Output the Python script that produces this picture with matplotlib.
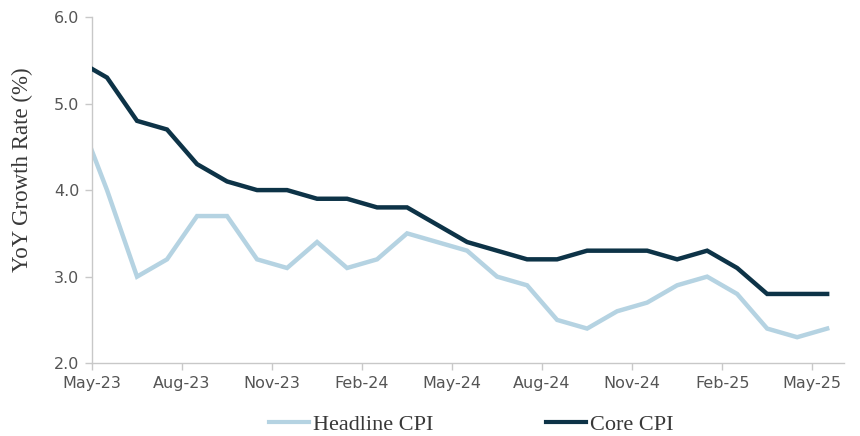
import matplotlib
matplotlib.use("Agg")
import matplotlib.pyplot as plt
import numpy as np

# Monthly CPI year-over-year growth, Apr-23 through May-25
months = ["Apr-23", "May-23", "Jun-23", "Jul-23", "Aug-23", "Sep-23", "Oct-23",
          "Nov-23", "Dec-23", "Jan-24", "Feb-24", "Mar-24", "Apr-24", "May-24",
          "Jun-24", "Jul-24", "Aug-24", "Sep-24", "Oct-24", "Nov-24", "Dec-24",
          "Jan-25", "Feb-25", "Mar-25", "Apr-25", "May-25"]
headline_cpi = [4.9, 4.0, 3.0, 3.2, 3.7, 3.7, 3.2, 3.1, 3.4, 3.1, 3.2, 3.5, 3.4,
                3.3, 3.0, 2.9, 2.5, 2.4, 2.6, 2.7, 2.9, 3.0, 2.8, 2.4, 2.3, 2.4]
core_cpi = [5.5, 5.3, 4.8, 4.7, 4.3, 4.1, 4.0, 4.0, 3.9, 3.9, 3.8, 3.8, 3.6,
            3.4, 3.3, 3.2, 3.2, 3.3, 3.3, 3.3, 3.2, 3.3, 3.1, 2.8, 2.8, 2.8]
tick_labels = ["May-23", "Aug-23", "Nov-23", "Feb-24", "May-24", "Aug-24",
               "Nov-24", "Feb-25", "May-25"]
y_ticks = [2.0, 3.0, 4.0, 5.0, 6.0]

HEADLINE_COLOR = "#b5d3e2"
CORE_COLOR = "#0d3347"

# Month index with May-23 = 0; observations sit mid-month
x = np.arange(len(months)) - 1 + 0.5
tick_pos = np.arange(0, 25, 3)

fig = plt.figure(figsize=(8.6, 4.36), dpi=100)
ax = fig.add_axes([0.107, 0.167, 0.874, 0.794])

ax.plot(x, headline_cpi, color=HEADLINE_COLOR, lw=3.2, solid_joinstyle="miter",
        label="Headline CPI", zorder=2)
ax.plot(x, core_cpi, color=CORE_COLOR, lw=3.2, solid_joinstyle="miter",
        label="Core CPI", zorder=3)

ax.set_xlim(0, 25.05)
ax.set_ylim(2.0, 6.0)
ax.set_xticks(tick_pos)
ax.set_xticklabels(tick_labels)
ax.set_yticks(y_ticks)
ax.set_yticklabels([f"{v:.1f}" for v in y_ticks])

for side in ("top", "right"):
    ax.spines[side].set_visible(False)
for side in ("left", "bottom"):
    ax.spines[side].set_color("#c8c8c8")
    ax.spines[side].set_linewidth(1.0)

ax.tick_params(axis="both", colors="#c8c8c8", labelcolor="#555555",
               labelsize=11.5, length=5, width=1.0)
ax.tick_params(axis="x", pad=4)
ax.tick_params(axis="y", pad=4)

ax.set_ylabel("YoY Growth Rate (%)", family="Liberation Serif", fontsize=16.5,
              color="#383838", labelpad=12)
ax.yaxis.set_label_coords(-0.078, 0.56)

leg = fig.legend(loc="center", bbox_to_anchor=(0.548, 0.026), ncol=2,
                 frameon=False, handlelength=1.8, handletextpad=0.15,
                 columnspacing=5.1, borderpad=0, borderaxespad=0,
                 prop={"family": "Liberation Serif", "size": 16})
for t in leg.get_texts():
    t.set_color("#383838")
for h in leg.get_lines():
    h.set_linewidth(3.0)

fig.savefig("out.png", dpi=100)
